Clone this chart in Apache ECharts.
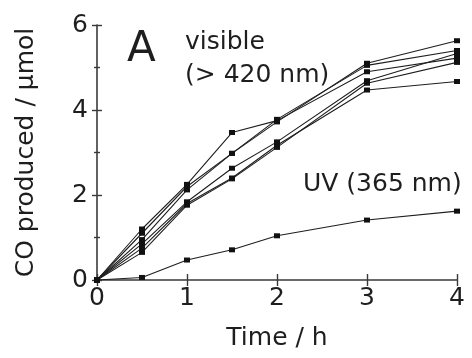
<!DOCTYPE html>
<html>
<head>
<meta charset="utf-8">
<script src="https://cdn.jsdelivr.net/npm/echarts@6/dist/echarts.min.js"></script>
<style>
  html, body { margin: 0; padding: 0; background: #fff; }
  #chart { width: 472px; height: 358px; }
</style>
</head>
<body>
<div id="chart"></div>
<script>
// Sampling times (h)
const times = [0, 0.5, 1, 1.5, 2, 3, 4];

// CO produced (µmol) under visible light (> 420 nm), six runs
const visRun1 = [0, 1.20, 2.25, 3.47, 3.75, 4.90, 5.22];
const visRun2 = [0, 1.10, 2.20, 2.98, 3.72, 5.10, 5.63];
const visRun3 = [0, 0.95, 2.12, 2.98, 3.78, 5.05, 5.40];
const visRun4 = [0, 0.85, 1.84, 2.63, 3.25, 4.69, 5.33];
const visRun5 = [0, 0.75, 1.80, 2.40, 3.17, 4.47, 4.67];
const visRun6 = [0, 0.65, 1.76, 2.38, 3.12, 4.63, 5.12];

// CO produced (µmol) under UV light (365 nm)
const uvRun = [0, 0.06, 0.47, 0.71, 1.04, 1.41, 1.62];

// Axis tick values
const xTicks = [0, 1, 2, 3, 4];
const yTicks = [0, 2, 4, 6];

const FONT = 'DejaVu Sans';
const INK = '#1e1e1e';
const AXIS = '#3a3a3a';

const runs = [visRun1, visRun2, visRun3, visRun4, visRun5, visRun6, uvRun];

function pairs(values) {
  return times.map((t, i) => [t, values[i]]);
}

const chart = echarts.init(document.getElementById('chart'), null, { renderer: 'canvas' });

const grid = { left: 97, right: 15, top: 25, bottom: 78, containLabel: false };

const baseX = {
  type: 'value', min: xTicks[0], max: xTicks[xTicks.length - 1], interval: 1,
  splitLine: { show: false }
};
const baseY = {
  type: 'value', min: yTicks[0], max: yTicks[yTicks.length - 1], interval: 2,
  splitLine: { show: false }
};

chart.setOption({
  animation: false,
  backgroundColor: '#ffffff',
  grid: grid,
  xAxis: [
    Object.assign({}, baseX, {
      position: 'bottom',
      axisLine: { show: true, onZero: false, lineStyle: { color: AXIS, width: 1.6 } },
      axisTick: { show: true, inside: false, length: 6, lineStyle: { color: AXIS, width: 1.4 } },
      axisLabel: { show: true, margin: 6, color: INK, fontFamily: FONT, fontSize: 25 },
      name: 'Time / h', nameLocation: 'middle', nameGap: 46,
      nameTextStyle: { color: INK, fontFamily: FONT, fontSize: 25 }
    }),
    Object.assign({}, baseX, {
      position: 'bottom',
      axisLine: { show: false, onZero: false },
      axisTick: { show: true, inside: true, length: 6, lineStyle: { color: AXIS, width: 1.4 } },
      axisLabel: { show: false }
    })
  ],
  yAxis: [
    Object.assign({}, baseY, {
      position: 'left',
      axisLine: { show: true, onZero: false, lineStyle: { color: AXIS, width: 1.6 } },
      axisTick: { show: true, inside: false, length: 5, lineStyle: { color: AXIS, width: 1.4 } },
      minorTick: { show: true, splitNumber: 2, length: 3, lineStyle: { color: AXIS, width: 1.4 } },
      axisLabel: { show: true, margin: 9, color: INK, fontFamily: FONT, fontSize: 25 },
      name: 'CO produced / µmol', nameLocation: 'middle', nameGap: 58, nameRotate: 90,
      nameTextStyle: { color: INK, fontFamily: FONT, fontSize: 25 }
    }),
    Object.assign({}, baseY, {
      position: 'left',
      axisLine: { show: false, onZero: false },
      axisTick: { show: true, inside: true, length: 5, lineStyle: { color: AXIS, width: 1.4 } },
      minorTick: { show: true, splitNumber: 2, length: 3, lineStyle: { color: AXIS, width: 1.4 } },
      axisLabel: { show: false }
    })
  ],
  series: runs.map((values, i) => ({
    type: 'line',
    xAxisIndex: 0,
    yAxisIndex: 0,
    data: pairs(values),
    symbol: 'rect',
    symbolSize: [6, 5],
    showSymbol: true,
    lineStyle: { color: INK, width: 1.1 },
    itemStyle: { color: '#111' },
    z: 3 + i
  })),
  graphic: [
    {
      type: 'text', left: 127, top: 29,
      style: { text: 'A', fill: INK, font: '42px "' + FONT + '"' }
    },
    {
      type: 'text', left: 185, top: 30,
      style: { text: 'visible', fill: INK, font: '25px "' + FONT + '"' }
    },
    {
      type: 'text', left: 185, top: 63,
      style: { text: '(> 420 nm)', fill: INK, font: '25px "' + FONT + '"' }
    },
    {
      type: 'text', left: 303, top: 172,
      style: { text: 'UV (365 nm)', fill: INK, font: '25px "' + FONT + '"' }
    }
  ]
});
</script>
</body>
</html>
